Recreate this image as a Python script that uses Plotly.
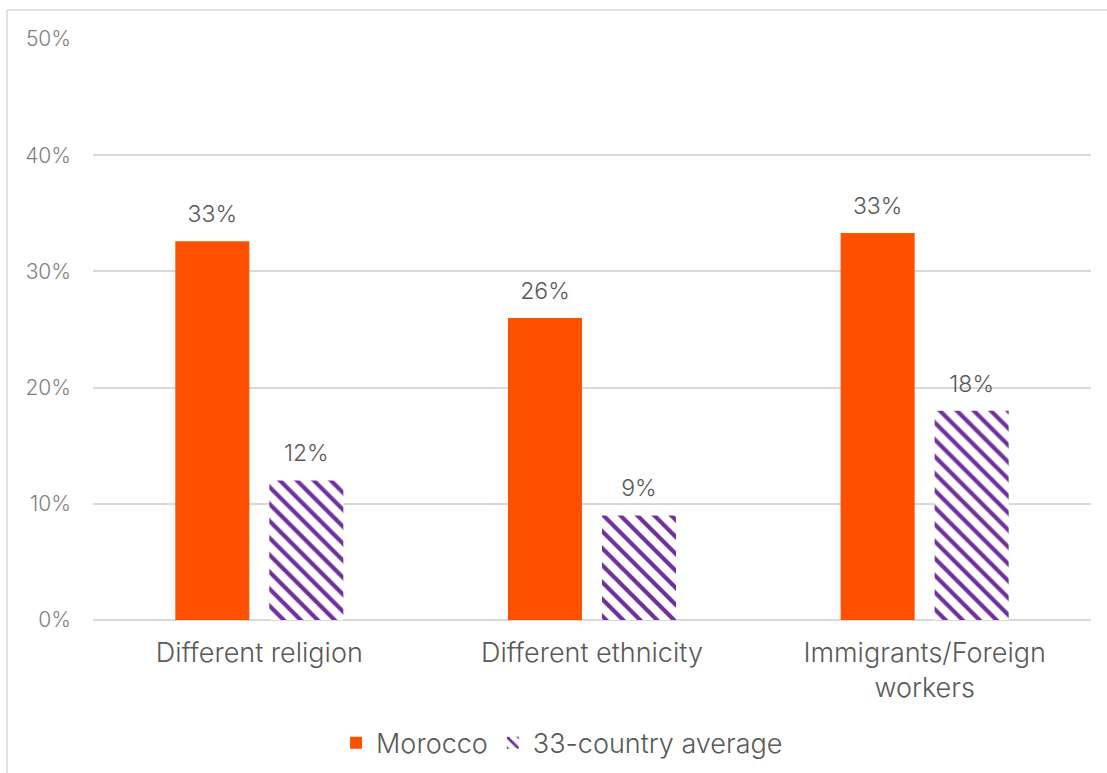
import plotly.graph_objects as go

categories = ["Different religion", "Different ethnicity", "Immigrants/Foreign<br>workers"]
morocco = [32.6, 26.0, 33.3]
country_avg = [12, 9, 18]
tick_vals = [0, 10, 20, 30, 40, 50]
tick_text = ["0%", "10%", "20%", "30%", "40%", "50%"]

W, H = 1107, 773
L, R, T, B = 93, 16, 39, 153
FONT = "Inter"
GRID = "#d9d9d9"
TEXT = "#595959"

# bar geometry on a numeric category axis (0, 1, 2)
BAR_W = 0.2225
OFF_MOR = -0.2526
OFF_AVG = 0.030
xs = list(range(len(categories)))

fig = go.Figure()
fig.add_trace(go.Bar(
    name="Morocco", x=xs, y=morocco, width=BAR_W, offset=OFF_MOR,
    marker=dict(color="#ff5000", line=dict(width=0)),
))
fig.add_trace(go.Bar(
    name="33-country average", x=xs, y=country_avg, width=BAR_W, offset=OFF_AVG,
    marker=dict(color="white", line=dict(width=0),
                pattern=dict(shape="\\", fgcolor="#7030a0", bgcolor="white",
                             fgopacity=1, size=12, solidity=0.35)),
))

# value labels above each bar
for vals, off in ((morocco, OFF_MOR), (country_avg, OFF_AVG)):
    fig.add_trace(go.Scatter(
        x=[x + off + BAR_W / 2 for x in xs], y=vals, mode="text+markers",
        text=[f"{v:.0f}%" for v in vals], textposition="top center",
        marker=dict(size=20, color="rgba(0,0,0,0)"),
        textfont=dict(family=FONT, size=23, color=TEXT, weight=300),
        showlegend=False, hoverinfo="skip", cliponaxis=False,
    ))

pw = W - L - R
ph = H - T - B
top_y = (H - B - 10) / ph
left_x = (7 - L) / pw
fig.add_shape(type="line", xref="paper", yref="paper",
              x0=left_x, x1=left_x, y0=top_y, y1=-B / ph,
              line=dict(color=GRID, width=1.5))
fig.add_shape(type="line", xref="paper", yref="paper",
              x0=left_x, x1=(W - L) / pw, y0=top_y, y1=top_y,
              line=dict(color=GRID, width=1.5))

fig.update_layout(
    width=W, height=H,
    margin=dict(l=L, r=R, t=T, b=B, autoexpand=False),
    paper_bgcolor="white", plot_bgcolor="white",
    showlegend=True,
    legend=dict(orientation="h", x=0.47, xanchor="center", y=-0.212, yanchor="middle",
                font=dict(family=FONT, size=27, color=TEXT, weight=300),
                itemsizing="constant", traceorder="normal", itemwidth=30),
    font=dict(family=FONT, color=TEXT),
)
fig.update_xaxes(range=[-0.5, 2.5], tickvals=xs, ticktext=categories,
                 showgrid=False, showline=False, zeroline=False, ticks="",
                 ticklabelstandoff=14,
                 tickfont=dict(family=FONT, size=27, color=TEXT, weight=300))
fig.update_yaxes(range=[0, 50], tickvals=tick_vals, ticktext=tick_text,
                 showgrid=True, gridcolor=GRID, gridwidth=1.5,
                 zeroline=True, zerolinecolor=GRID, zerolinewidth=1.5,
                 showline=False, ticks="", ticklabelstandoff=21,
                 tickfont=dict(family=FONT, size=21, color="#7f7f7f", weight=300))

fig.write_html("out.html")
